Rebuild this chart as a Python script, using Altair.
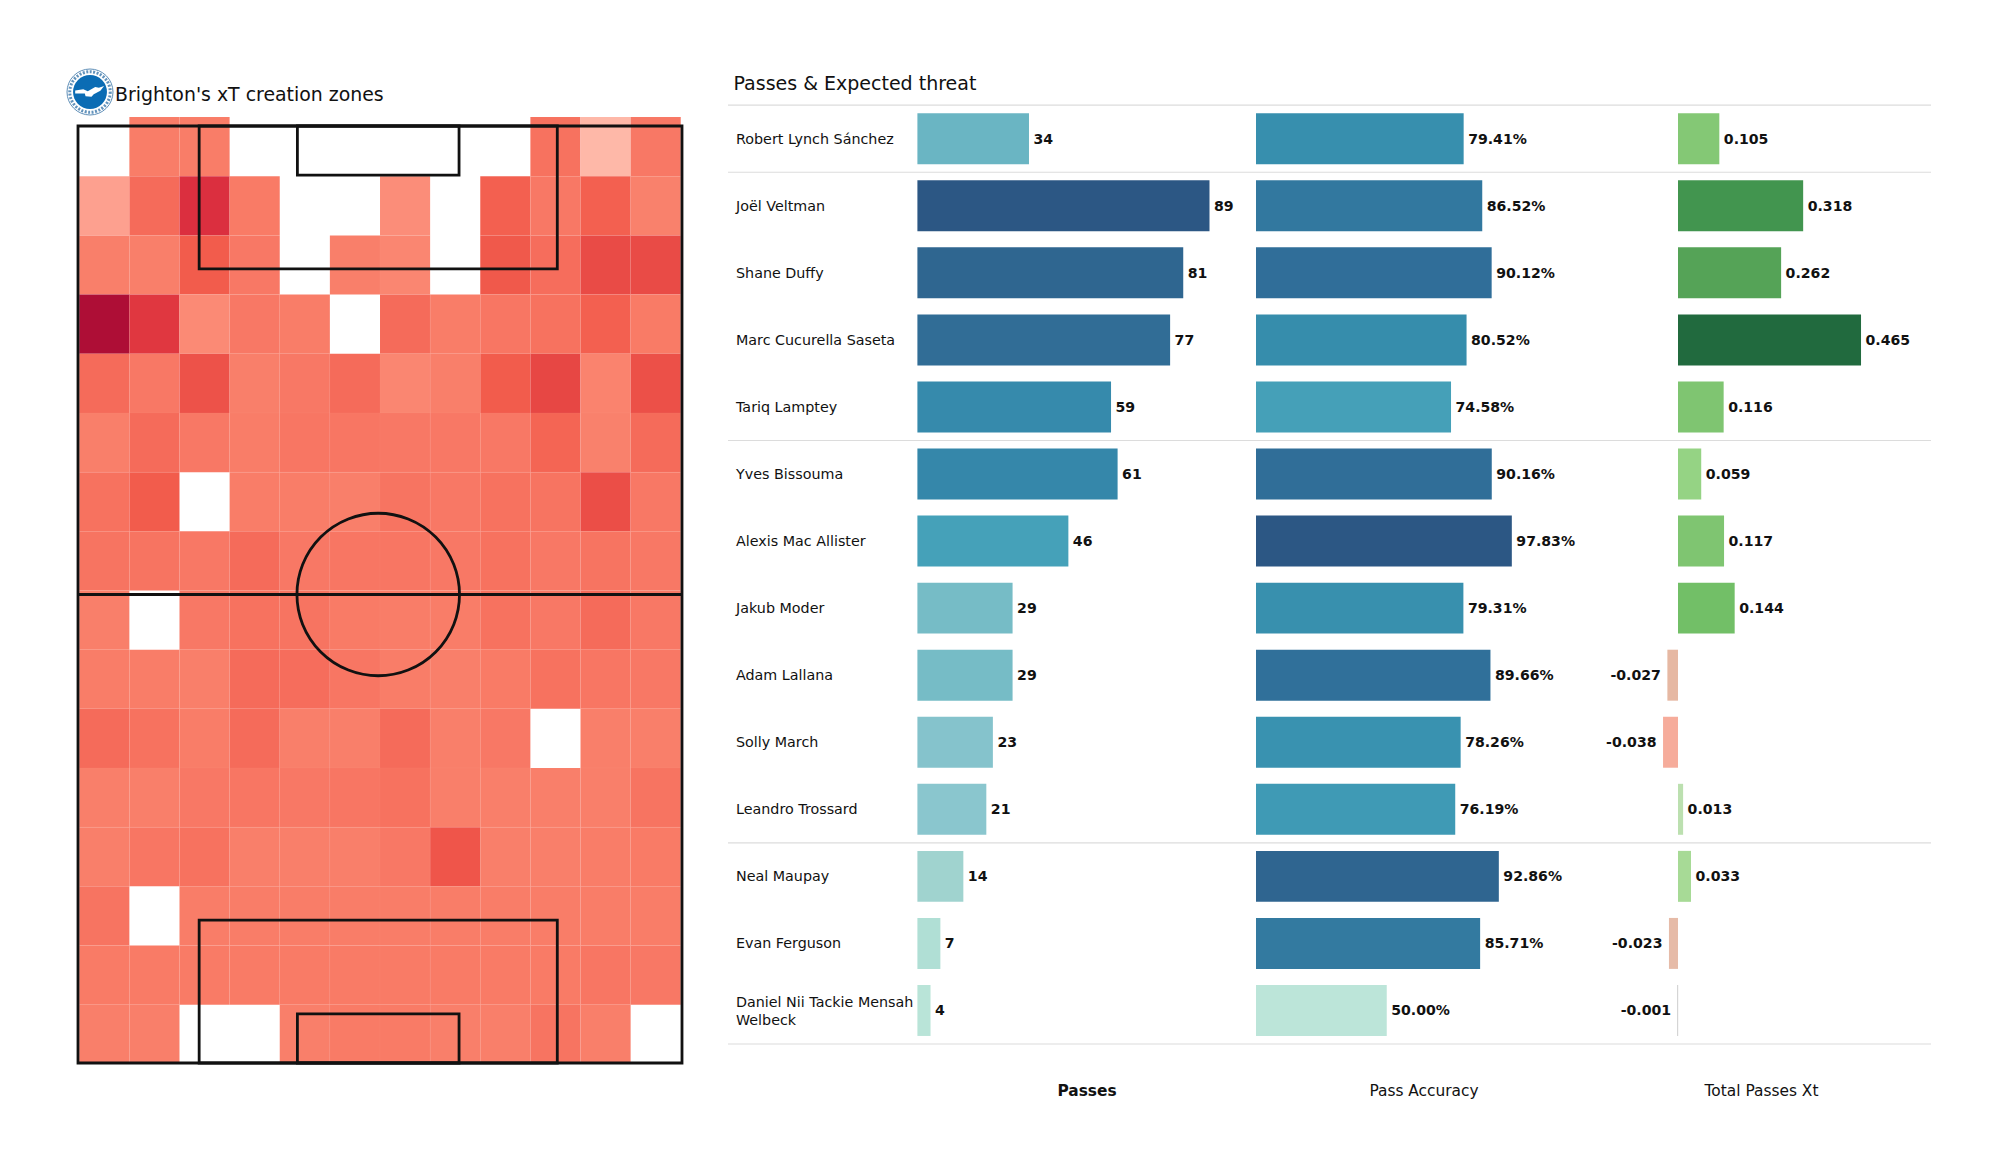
import altair as alt
import pandas as pd

# ---------- data ----------
players = ["Robert Lynch Sánchez", "Joël Veltman", "Shane Duffy", "Marc Cucurella Saseta", "Tariq Lamptey",
           "Yves Bissouma", "Alexis Mac Allister", "Jakub Moder", "Adam Lallana", "Solly March",
           "Leandro Trossard", "Neal Maupay", "Evan Ferguson", "Daniel Nii Tackie Mensah\nWelbeck"]
passes = [34, 89, 81, 77, 59, 61, 46, 29, 29, 23, 21, 14, 7, 4]
accuracy = [79.41, 86.52, 90.12, 80.52, 74.58, 90.16, 97.83, 79.31, 89.66, 78.26, 76.19, 92.86, 85.71, 50.00]
xt = [0.105, 0.318, 0.262, 0.465, 0.116, 0.059, 0.117, 0.144, -0.027, -0.038, 0.013, 0.033, -0.023, -0.001]
group_breaks = [0.5, 4.5, 10.5]
N = None
heat = [
    [N, 25, 25, N, N, N, N, N, N, 30, 0, 27],
    [9, 33, 60, 26, N, N, 16, N, 38, 27, 38, 23],
    [24, 24, 40, 27, N, 24, 20, N, 42, 32, 50, 50],
    [100, 65, 18, 27, 25, N, 33, 25, 28, 30, 38, 26],
    [33, 27, 46, 24, 27, 33, 20, 24, 40, 52, 22, 47],
    [24, 33, 27, 25, 28, 28, 27, 27, 27, 36, 23, 33],
    [30, 40, N, 25, 25, 24, 29, 27, 30, 29, 48, 27],
    [29, 29, 27, 33, 27, 28, 28, 27, 30, 27, 29, 27],
    [24, N, 27, 30, 29, 26, 25, 25, 30, 27, 33, 27],
    [25, 25, 24, 33, 32, 28, 25, 24, 26, 30, 28, 27],
    [33, 30, 25, 33, 24, 24, 33, 24, 27, N, 24, 24],
    [24, 24, 27, 28, 27, 28, 30, 24, 24, 24, 24, 29],
    [24, 28, 30, 24, 24, 24, 27, 44, 24, 24, 25, 26],
    [29, N, 25, 25, 25, 25, 25, 25, 25, 25, 25, 25],
    [26, 26, 26, 26, 26, 26, 26, 26, 26, 26, 28, 27],
    [24, 24, N, N, 24, 26, 26, 24, 24, 29, 24, N],
]
FONT = "DejaVu Sans"
INK = "#111111"

# ---------- pitch panel ----------
PW, PL = 68.0, 105.0
CX = PW / 2 - 0.2
x_s = alt.Scale(domain=[0, PW], range=[70, 674])
y_s = alt.Scale(domain=[0, PL], range=[118, 1055])
gx0, gx1, gy0, gy1 = 0.14, PW - 0.14, -1.0, PL + 0.1
cells = []
for r, row in enumerate(heat):
    for c, v in enumerate(row):
        if v is not None:
            cells.append(dict(x=gx0 + c * (gx1 - gx0) / 12, x2=gx0 + (c + 1) * (gx1 - gx0) / 12,
                              y=gy0 + r * (gy1 - gy0) / 16, y2=gy0 + (r + 1) * (gy1 - gy0) / 16, v=v))
heat_layer = alt.Chart(pd.DataFrame(cells)).mark_rect(stroke="#ffffff", strokeWidth=0.4, strokeOpacity=0.08).encode(
    x=alt.X("x:Q", scale=x_s, axis=None), x2="x2:Q",
    y=alt.Y("y:Q", scale=y_s, axis=None), y2="y2:Q",
    color=alt.Color("v:Q", legend=None, scale=alt.Scale(
        domain=[0, 9, 16, 24, 28, 33, 40, 47, 52, 60, 65, 100],
        range=["#FEB8A8", "#FDA08F", "#FB8D79", "#F97F6A", "#F87663", "#F56B5A", "#F25C4C", "#EC5048",
               "#E74744", "#DB2F3F", "#E03740", "#AE0E36"])),
)
boxes = pd.DataFrame([
    dict(x=0, x2=PW, y=0, y2=PL),
    dict(x=CX - 20.16, x2=CX + 20.16, y=0, y2=16.0),
    dict(x=CX - 9.1, x2=CX + 9.1, y=0, y2=5.5),
    dict(x=CX - 20.16, x2=CX + 20.16, y=PL - 16.0, y2=PL),
    dict(x=CX - 9.1, x2=CX + 9.1, y=PL - 5.5, y2=PL),
])
box_layer = alt.Chart(boxes).mark_rect(fill=None, stroke=INK, strokeWidth=2.8).encode(
    x=alt.X("x:Q", scale=x_s, axis=None), x2="x2:Q",
    y=alt.Y("y:Q", scale=y_s, axis=None), y2="y2:Q")
mid_layer = alt.Chart(pd.DataFrame([dict(x=0, x2=PW, y=PL / 2)])).mark_rule(color=INK, strokeWidth=2.8).encode(
    x=alt.X("x:Q", scale=x_s, axis=None), x2="x2:Q", y=alt.Y("y:Q", scale=y_s, axis=None))
circle_layer = alt.Chart(pd.DataFrame([dict(x=CX, y=PL / 2)])).mark_point(
    filled=False, shape="circle", stroke=INK, strokeWidth=2.8, opacity=1,
    size=(2 * 9.15 * 604 / 68) ** 2).encode(
    x=alt.X("x:Q", scale=x_s, axis=None), y=alt.Y("y:Q", scale=y_s, axis=None))
title_a = alt.Chart(pd.DataFrame([dict(t="Brighton's xT creation zones")])).mark_text(
    align="left", baseline="middle", font=FONT, fontSize=18.9, color=INK).encode(
    x=alt.value(107), y=alt.value(86.5), text="t:N")

# crest (approximate)
crest_df = pd.DataFrame([dict(a=1)])
crest_bg = alt.Chart(crest_df).mark_point(
    filled=True, shape="circle", size=2116, fill="#ffffff", stroke="#5f8fb8", strokeWidth=1, opacity=1).encode(
    x=alt.value(82), y=alt.value(84))
crest_text = alt.Chart(crest_df).mark_point(
    filled=False, shape="circle", size=1640, stroke="#2f6fa6", strokeWidth=3, strokeDash=[2, 1.5], opacity=0.75).encode(
    x=alt.value(82), y=alt.value(84))
crest_ring = alt.Chart(crest_df).mark_point(
    filled=True, shape="circle", size=1150, fill="#0b6cb4", opacity=1).encode(
    x=alt.value(82), y=alt.value(84))
crest_bird = alt.Chart(crest_df).mark_point(
    filled=True, size=880, fill="#ffffff", opacity=1,
    shape="M-1,-0.1 L-0.45,-0.18 L-0.15,-0.05 L0.35,-0.33 L0.6,-0.28 L0.95,-0.4 L0.7,-0.08 L0.25,0.15 L0.1,0.32 L-0.3,0.28 L-0.35,0.1 L-1,0.1 Z").encode(
    x=alt.value(82), y=alt.value(84))

panel_a = alt.layer(heat_layer, box_layer, mid_layer, circle_layer, crest_bg, crest_text, crest_ring,
                    crest_bird, title_a).properties(width=720, height=1150)

# ---------- table ----------
rows = pd.DataFrame(dict(i=list(range(14)), name=players, passes=passes, acc=accuracy, xt=xt))
rows["passes_t"] = [str(v) for v in passes]
rows["acc_t"] = [f"{v:.2f}%" for v in accuracy]
rows["xt_t"] = [f"{v:.3f}" for v in xt]
rows["top"] = rows["i"] - 0.38
rows["bot"] = rows["i"] + 0.38
rows["zero"] = 0
rows["two_lines"] = ["\n" in p for p in players]
rule_df = pd.DataFrame(dict(y=[-0.5] + group_breaks + [13.5]))
Y_TABLE = alt.Scale(domain=[-0.5, 13.5], range=[97.2, 1036])


def header(text, px, bold=False):
    return alt.Chart(pd.DataFrame([dict(t=text)])).mark_text(
        align="center", baseline="middle", font=FONT, fontSize=15.4,
        fontWeight="bold" if bold else "normal", color=INK).encode(
        x=alt.value(px), y=alt.value(1083), text="t:N")


def rules_for(w):
    return alt.Chart(rule_df).mark_rule(color="#dcdcdc", strokeWidth=1.2).encode(
        x=alt.value(0), x2=alt.value(w), y=alt.Y("y:Q", scale=Y_TABLE, axis=None))


# names
names_one = alt.Chart(rows).transform_filter("!datum.two_lines").mark_text(
    align="left", baseline="middle", font=FONT, fontSize=14.3, dy=1, color=INK).encode(
    x=alt.value(8), y=alt.Y("i:Q", scale=Y_TABLE, axis=None), text="name:N")
names_two = alt.Chart(rows).transform_filter("datum.two_lines").mark_text(
    align="left", baseline="middle", font=FONT, fontSize=14.3, dy=-7.5, color=INK,
    lineBreak="\n", lineHeight=18).encode(
    x=alt.value(8), y=alt.Y("i:Q", scale=Y_TABLE, axis=None), text="name:N")
sec_title = alt.Chart(pd.DataFrame([dict(t="Passes & Expected threat")])).mark_text(
    align="left", baseline="middle", font=FONT, fontSize=19, color=INK).encode(
    x=alt.value(5.5), y=alt.value(76), text="t:N")
panel_b = alt.layer(rules_for(190), names_one, names_two, sec_title).properties(width=190, height=1150)


def bars(field, label, scale_x, color_scale, w, head):
    base = alt.Chart(rows)
    b = base.mark_rect().encode(
        x=alt.X("zero:Q", scale=scale_x, axis=None), x2=f"{field}:Q",
        y=alt.Y("top:Q", scale=Y_TABLE, axis=None), y2="bot:Q",
        color=alt.Color(f"{field}:Q", scale=color_scale, legend=None))
    t = base.transform_filter(f"datum.{field} >= 0").mark_text(
        align="left", baseline="middle", dx=4.5, dy=1, font=FONT, fontSize=14.1, fontWeight="bold", color=INK).encode(
        x=alt.X(f"{field}:Q", scale=scale_x, axis=None),
        y=alt.Y("i:Q", scale=Y_TABLE, axis=None), text=f"{label}:N")
    return [rules_for(w), b, t, head]


pass_x = alt.Scale(domain=[0, 338 / 3.282], range=[-0.6, 337.4], nice=False, zero=False)
pass_c = alt.Scale(domain=[4, 7, 14, 21, 29, 34, 46, 59, 77, 81, 89],
                   range=["#B9E4D8", "#B0DFD5", "#A0D3CF", "#8AC6CE", "#76BCC6", "#6AB5C3", "#45A1B9",
                          "#368AAC", "#316D96", "#2F6690", "#2C5784"])
panel_c = alt.layer(*bars("passes", "passes_t", pass_x, pass_c, 338, header("Passes", 169, bold=True))).properties(width=338, height=1150)

acc_x = alt.Scale(domain=[0, 334 / 2.615], range=[0, 334], nice=False, zero=False)
acc_c = alt.Scale(domain=[50, 74.58, 76.19, 78.26, 80.52, 85.71, 89.66, 92.86, 97.83],
                  range=["#BCE5D9", "#45A0B8", "#3F9AB5", "#3992B0", "#368DAC", "#337AA0", "#30709A", "#2F6590", "#2C5784"])
panel_d = alt.layer(*bars("acc", "acc_t", acc_x, acc_c, 334, header("Pass Accuracy", 168))).properties(width=334, height=1150)

xt_x = alt.Scale(domain=[-88 / 393.6, 253 / 393.6], range=[0, 341], nice=False, zero=False)
xt_c = alt.Scale(domain=[-0.038, -0.027, -0.023, -0.001, 0.013, 0.033, 0.059, 0.105, 0.144, 0.262, 0.318, 0.465],
                 range=["#F6AC9B", "#E6B8A3", "#E6BBA8", "#D5D5D5", "#BCE0B0", "#A7DA96", "#95D384", "#84C875",
                        "#72BF67", "#55A357", "#42954F", "#216A3E"])
e_layers = bars("xt", "xt_t", xt_x, xt_c, 341, header("Total Passes Xt", 171.5))
neg = alt.Chart(rows).transform_filter("datum.xt < 0").mark_text(
    align="right", baseline="middle", dx=-6.5, dy=1, font=FONT, fontSize=14.1, fontWeight="bold", color=INK).encode(
    x=alt.X("xt:Q", scale=xt_x, axis=None), y=alt.Y("i:Q", scale=Y_TABLE, axis=None), text="xt_t:N")
hair = alt.Chart(rows).transform_filter("abs(datum.xt) < 0.002").mark_rule(color="#D5D5D5", strokeWidth=1.2).encode(
    x=alt.X("xt:Q", scale=xt_x, axis=None), y=alt.Y("top:Q", scale=Y_TABLE, axis=None), y2="bot:Q")
panel_e = alt.layer(*e_layers, neg, hair).properties(width=341, height=1150)

chart = alt.hconcat(panel_a, panel_b, panel_c, panel_d, panel_e, spacing=0, bounds="flush").resolve_scale(
    color="independent", x="independent", y="independent"
).properties(padding=0, background="white").configure_view(stroke=None)

chart.save("out.html", embed_options={"renderer": "svg", "actions": False})
